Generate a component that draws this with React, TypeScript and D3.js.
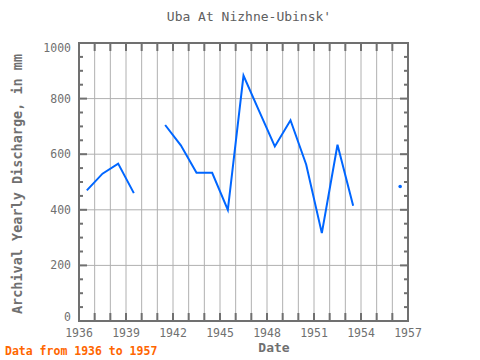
import React, { useEffect, useRef } from "react";
import * as d3 from "d3";

const years = [1936, 1937, 1938, 1939, 1940, 1941, 1942, 1943, 1944, 1945, 1946, 1947, 1948, 1949, 1950, 1951, 1952, 1953, 1954, 1955, 1956];
const discharge = [470, 530, 566, 460, null, 705, 632, 533, 533, 400, 883, 755, 628, 722, 563, 316, 634, 415, null, null, 484];
const xTicks = [1936, 1939, 1942, 1945, 1948, 1951, 1954, 1957];
const yTicks = [0, 200, 400, 600, 800, 1000];

const font = "'DejaVu Sans Mono', monospace";

function App() {
  const ref = useRef(null);

  useEffect(() => {
    const width = 480;
    const height = 360;
    const left = 79, right = 408, top = 43, bottom = 321;

    d3.select(ref.current).select("svg").remove();

    const svg = d3
      .select(ref.current)
      .append("svg")
      .attr("width", width)
      .attr("height", height)
      .style("position", "absolute")
      .style("left", "0px")
      .style("top", "0px");

    const x = d3.scaleLinear().domain([1936, 1957]).range([left, right]);
    const y = d3.scaleLinear().domain([0, 1000]).range([bottom, top]);

    // grid
    svg
      .selectAll("vgrid")
      .data(d3.range(1937, 1957))
      .enter()
      .append("line")
      .attr("x1", (d) => x(d))
      .attr("x2", (d) => x(d))
      .attr("y1", top)
      .attr("y2", bottom)
      .attr("stroke", "#b0b0b0")
      .attr("stroke-width", 1);

    svg
      .selectAll("hgrid")
      .data([200, 400, 600, 800])
      .enter()
      .append("line")
      .attr("x1", left)
      .attr("x2", right)
      .attr("y1", (d) => y(d))
      .attr("y2", (d) => y(d))
      .attr("stroke", "#b0b0b0")
      .attr("stroke-width", 1);

    // ticks on x (top and bottom, inward)
    d3.range(1937, 1957).forEach((d) => {
      svg.append("line").attr("x1", x(d)).attr("x2", x(d)).attr("y1", bottom).attr("y2", bottom - 8)
        .attr("stroke", "#707070").attr("stroke-width", 2);
      svg.append("line").attr("x1", x(d)).attr("x2", x(d)).attr("y1", top).attr("y2", top + 8)
        .attr("stroke", "#707070").attr("stroke-width", 2);
    });

    // ticks on y every 50
    d3.range(50, 1000, 50).forEach((d) => {
      const len = d % 200 === 0 ? 8 : 4;
      svg.append("line").attr("x1", left).attr("x2", left + len).attr("y1", y(d)).attr("y2", y(d))
        .attr("stroke", "#707070").attr("stroke-width", 2);
      svg.append("line").attr("x1", right).attr("x2", right - len).attr("y1", y(d)).attr("y2", y(d))
        .attr("stroke", "#707070").attr("stroke-width", 2);
    });

    // frame
    svg
      .append("rect")
      .attr("x", left)
      .attr("y", top)
      .attr("width", right - left)
      .attr("height", bottom - top)
      .attr("fill", "none")
      .attr("stroke", "#707070")
      .attr("stroke-width", 2);

    // tick labels
    svg
      .selectAll("xlab")
      .data(xTicks)
      .enter()
      .append("text")
      .attr("x", (d) => x(d))
      .attr("y", bottom + 16)
      .attr("text-anchor", "middle")
      .attr("font-family", font)
      .attr("font-size", 11.5)
      .attr("fill", "#707070")
      .text((d) => d);

    // y labels are kept inside the plot's height (0 moves up, 1000 down)
    svg
      .selectAll("ylab")
      .data(yTicks)
      .enter()
      .append("text")
      .attr("x", left - 8)
      .attr("y", (d) => Math.max(top + 9, Math.min(bottom, y(d) + 4)))
      .attr("text-anchor", "end")
      .attr("font-family", font)
      .attr("font-size", 11.5)
      .attr("fill", "#707070")
      .text((d) => d);

    // data
    const pts = years.map((yr, i) => ({ yr: yr + 0.5, v: discharge[i] }));
    const line = d3
      .line()
      .defined((d) => d.v !== null)
      .x((d) => x(d.yr))
      .y((d) => y(d.v));

    svg
      .append("path")
      .datum(pts)
      .attr("d", line)
      .attr("fill", "none")
      .attr("stroke", "#0066ff")
      .attr("stroke-width", 2);

    const isolated = pts.filter(
      (d, i) => d.v !== null && (i === 0 || pts[i - 1].v === null) && (i === pts.length - 1 || pts[i + 1].v === null)
    );
    svg
      .selectAll("dots")
      .data(isolated)
      .enter()
      .append("circle")
      .attr("cx", (d) => x(d.yr))
      .attr("cy", (d) => y(d.v))
      .attr("r", 1.8)
      .attr("fill", "#0066ff");

    // titles
    svg.append("text").attr("x", 249).attr("y", 21).attr("text-anchor", "middle")
      .attr("font-family", font).attr("font-size", 13).attr("fill", "#606060")
      .text("Uba At Nizhne-Ubinsk'");

    svg.append("text").attr("x", 274).attr("y", 352).attr("text-anchor", "middle")
      .attr("font-family", font).attr("font-size", 13).attr("font-weight", "bold").attr("fill", "#707070")
      .text("Date");

    svg.append("text")
      .attr("transform", `translate(22, ${(top + bottom) / 2 + 2}) rotate(-90)`)
      .attr("text-anchor", "middle")
      .attr("font-family", font).attr("font-size", 13.5).attr("font-weight", "bold").attr("fill", "#707070")
      .text("Archival Yearly Discharge, in mm");

    svg.append("text").attr("x", 5).attr("y", 355)
      .attr("font-family", font).attr("font-size", 11.5).attr("font-weight", "bold").attr("fill", "#ff6600")
      .text("Data from 1936 to 1957");
  }, []);

  return <div ref={ref}></div>;
}

export default App;
